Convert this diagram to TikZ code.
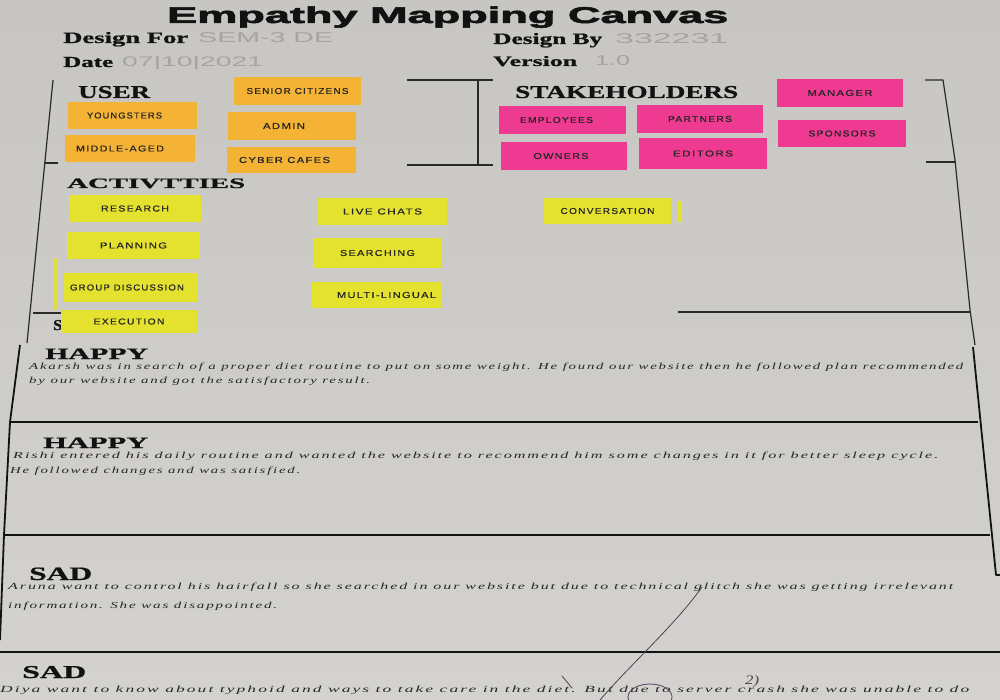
\documentclass[tikz,border=0pt]{standalone}
\usepackage{fontspec}
\usepackage{graphicx}
\setmainfont{Liberation Serif}
\setsansfont{Liberation Sans}
\newfontfamily\titlefont[UprightFont=* Bold, FakeBold=2.2]{Liberation Sans}
\newfontfamily\headfont[UprightFont=* Bold, FakeBold=0.8]{Liberation Serif}
\newfontfamily\marker[LetterSpace=12, FakeBold=0.6]{Liberation Sans}
\newfontfamily\scrawl[LetterSpace=12]{Liberation Serif}

% paper, inks and sticky-note colours
\definecolor{paperTop}{HTML}{C8C6C3}
\definecolor{paperBottom}{HTML}{D4D2CF}
\definecolor{ink}{HTML}{121212}
\definecolor{rule}{HTML}{2A2A2A}
\definecolor{faint}{HTML}{A6A4A1}
\definecolor{pencil}{HTML}{262626}
\definecolor{penmark}{HTML}{4A4258}
\definecolor{noteOrange}{HTML}{F5B335}
\definecolor{notePink}{HTML}{EF3A91}
\definecolor{noteYellow}{HTML}{E4E22E}

% text stretched to a given width and height (in pt)
\newcommand\fitto[3]{\resizebox{#1pt}{#2pt}{#3}}
\newcommand\notelbl[2]{\resizebox{#1pt}{6pt}{\marker #2}}

\tikzset{
  txt/.style={anchor=base west, inner sep=0, text=ink},
  faintval/.style={anchor=base west, inner sep=0, text=faint},
  hand/.style={anchor=base west, inner sep=0, text=pencil},
  note/.style={rectangle, inner sep=0, text=pencil},
  onote/.style={note, fill=noteOrange},
  pnote/.style={note, fill=notePink},
  ynote/.style={note, fill=noteYellow},
  frame/.style={draw=rule, line width=1.2pt, line join=round},
  heavy/.style={draw=ink, line width=1.8pt, line join=round},
  pen/.style={draw=penmark, line width=0.8pt, line cap=round}
}

\begin{document}
\begin{tikzpicture}[x=1pt,y=-1pt]
\useasboundingbox (0,0) rectangle (1000,700);
\shade[top color=paperTop, bottom color=paperBottom] (0,0) rectangle (1000,700);

% ---- header -------------------------------------------------------
\node[txt] (title) at (167,23) {\fitto{561}{16.5}{\titlefont Empathy Mapping Canvas}};
\node[txt] (designfor) at (63,43) {\fitto{125}{11}{\headfont Design For}};
\node[faintval] (designforval) at (198,43) {\fitto{135}{10}{\sffamily SEM-3 DE}};
\node[txt] (date) at (63,67) {\fitto{50}{10}{\headfont Date}};
\node[faintval] (dateval) at (122,67) {\fitto{141}{10}{\sffamily 07|10|2021}};
\node[txt] (designby) at (493,44) {\fitto{109}{11}{\headfont Design By}};
\node[faintval] (designbyval) at (615,44) {\fitto{113}{10}{\sffamily 332231}};
\node[txt] (version) at (493,66) {\fitto{84}{10}{\headfont Version}};
\node[faintval] (versionval) at (595,66) {\fitto{35}{10}{\sffamily 1.0}};

% ---- frame of the upper sheet ------------------------------------
\draw[frame] (53,80) -- (27,343);
\draw[frame] (45,163) -- (58,163);
\draw[frame] (33,313) -- (62,313);
\draw[frame] (407,80) -- (493,80);
\draw[frame] (478,80) -- (478,165);
\draw[frame] (407,165) -- (493,165);
\draw[frame] (925,80) -- (943,80) -- (955,160) -- (970,310) -- (975,345);
\draw[frame] (926,162) -- (956,162);
\draw[frame] (678,312) -- (970,312);

% ---- section titles -----------------------------------------------
\node[txt] (user) at (78,98) {\fitto{72}{12}{\headfont USER}};
\node[txt] (stake) at (515,98) {\fitto{223}{12}{\headfont STAKEHOLDERS}};
\node[txt] (acts) at (67,188) {\fitto{178}{9.5}{\headfont ACTIVTTIES}};
\node[txt] (scen) at (53,330) {\fitto{9}{10}{\headfont S}};

% ---- user notes ----------------------------------------------------
\node[onote, minimum width=129pt, minimum height=27pt] (youngsters) at (132.5,115.5) {\hspace*{-16pt}\notelbl{75}{YOUNGSTERS}};
\node[onote, minimum width=130pt, minimum height=27pt] (middle) at (130,148.5) {\hspace*{-20pt}\notelbl{88}{MIDDLE-AGED}};
\node[onote, minimum width=127pt, minimum height=28pt] (senior) at (297.5,91) {\notelbl{102}{SENIOR CITIZENS}};
\node[onote, minimum width=128pt, minimum height=28pt] (admin) at (292,126) {\hspace*{-16pt}\notelbl{42}{ADMIN}};
\node[onote, minimum width=129pt, minimum height=26pt] (cyber) at (291.5,160) {\hspace*{-14pt}\notelbl{91}{CYBER CAFES}};

% ---- stakeholder notes ---------------------------------------------
\node[pnote, minimum width=127pt, minimum height=28pt] (employees) at (562.5,120) {\hspace*{-12pt}\notelbl{73}{EMPLOYEES}};
\node[pnote, minimum width=126pt, minimum height=28pt] (partners) at (700,119) {\notelbl{64}{PARTNERS}};
\node[pnote, minimum width=126pt, minimum height=28pt] (owners) at (564,156) {\hspace*{-6pt}\notelbl{55}{OWNERS}};
\node[pnote, minimum width=128pt, minimum height=31pt] (editors) at (703,153.5) {\notelbl{60}{EDITORS}};
\node[pnote, minimum width=126pt, minimum height=28pt] (manager) at (840,93) {\notelbl{65}{MANAGER}};
\node[pnote, minimum width=128pt, minimum height=27pt] (sponsors) at (842,133.5) {\notelbl{67}{SPONSORS}};

% ---- activity notes ------------------------------------------------
\fill[noteYellow!85!paperTop] (54,258) rectangle (58,310);
\fill[noteYellow] (677,201) rectangle (682,222);
\node[ynote, minimum width=132pt, minimum height=27pt] (research) at (135,208.5) {\notelbl{68}{RESEARCH}};
\node[ynote, minimum width=133pt, minimum height=27pt] (planning) at (133.5,245.5) {\notelbl{67}{PLANNING}};
\node[ynote, minimum width=134pt, minimum height=29pt] (group) at (131,287.5) {\hspace*{-8pt}\notelbl{114}{GROUP DISCUSSION}};
\node[ynote, minimum width=136pt, minimum height=23pt] (execution) at (129,321.5) {\notelbl{71}{EXECUTION}};
\node[ynote, minimum width=129pt, minimum height=27pt] (livechats) at (382.5,211.5) {\notelbl{79}{LIVE CHATS}};
\node[ynote, minimum width=129pt, minimum height=30pt] (searching) at (377.5,253) {\notelbl{75}{SEARCHING}};
\node[ynote, minimum width=131pt, minimum height=26pt] (multi) at (376.5,295) {\hspace*{20pt}\notelbl{99}{MULTI-LINGUAL}};
\node[ynote, minimum width=127pt, minimum height=26pt] (conversation) at (607.5,211) {\notelbl{94}{CONVERSATION}};

% ---- lower sheet: scenario rows -------------------------------------
\draw[heavy] (20,345) -- (10,422) -- (4,535) -- (0,640);
\draw[heavy] (973,347) -- (996,575) -- (1000,575);
\draw[heavy] (10,422) -- (978,422);
\draw[heavy] (4,535) -- (990,535);
\draw[heavy] (0,652) -- (1000,652);

\node[txt] (happy1) at (45,359) {\fitto{103}{10.5}{\headfont HAPPY}};
\node[hand] (h1a) at (29,369.5) {\fitto{934}{6.5}{\scrawl\itshape Akarsh was in search of a proper diet routine to put on some weight. He found our website then he followed plan recommended}};
\node[hand] (h1b) at (29,383.5) {\fitto{341}{6.5}{\scrawl\itshape by our website and got the satisfactory result.}};

\node[txt] (happy2) at (43,448) {\fitto{105}{10.5}{\headfont HAPPY}};
\node[hand] (h2a) at (13,458) {\fitto{925}{6.5}{\scrawl\itshape Rishi entered his daily routine and wanted the website to recommend him some changes in it for better sleep cycle.}};
\node[hand] (h2b) at (10,473) {\fitto{290}{6.5}{\scrawl\itshape He followed changes and was satisfied.}};

\node[txt] (sad1) at (29,580) {\fitto{63}{12.5}{\headfont SAD}};
\node[hand] (s1a) at (8,589.5) {\fitto{945}{6.5}{\scrawl\itshape Aruna want to control his hairfall so she searched in our website but due to technical glitch she was getting irrelevant}};
\node[hand] (s1b) at (8,608) {\fitto{269}{6.5}{\scrawl\itshape information. She was disappointed.}};

\node[txt] (sad2) at (22,678) {\fitto{64}{12}{\headfont SAD}};
\node[hand] (s2a) at (0,692.5) {\fitto{969}{6.5}{\scrawl\itshape Diya want to know about typhoid and ways to take care in the diet. But due to server crash she was unable to do}};

% ---- reviewer's pen marks ------------------------------------------
\draw[pen] (702,587) .. controls (675,625) and (630,665) .. (600,700);
\draw[pen] (562,676) -- (572,688);
\draw[pen] (650,697) ellipse (22 and 13);
\node[anchor=base west, inner sep=0, text=penmark] (mark2) at (745,684) {\fitto{14}{9}{\itshape 2)}};
\end{tikzpicture}
\end{document}
